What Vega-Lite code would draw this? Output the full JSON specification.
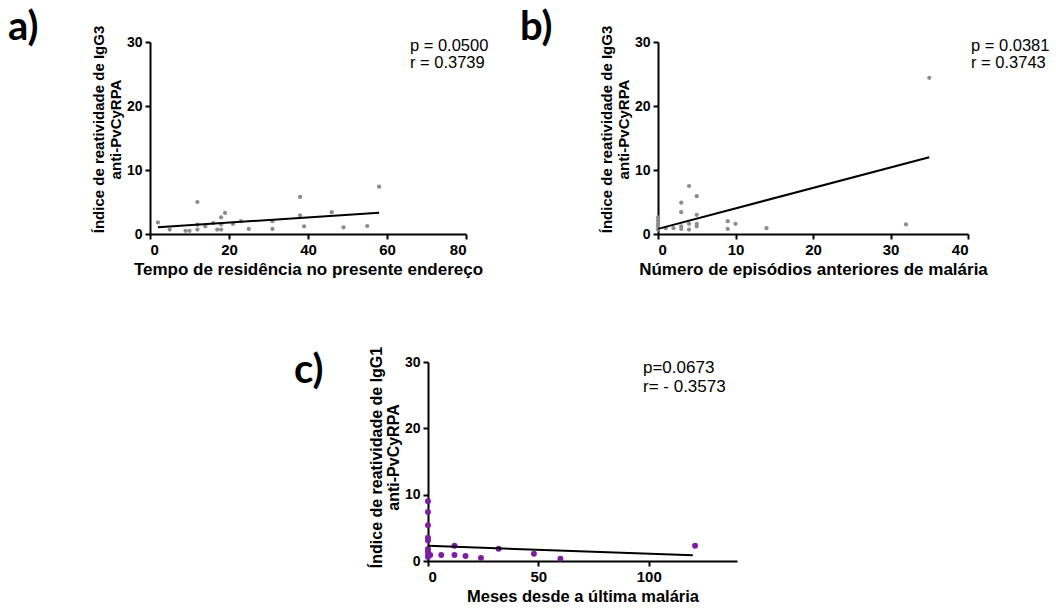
{
  "$schema": "https://vega.github.io/schema/vega-lite/v6.json",
  "padding": {"left": 8, "top": 8, "right": 5, "bottom": 0},
  "background": "white",
  "config": {
    "view": {"stroke": null},
    "font": "Liberation Sans",
    "axis": {"domainColor": "black", "domainWidth": 2, "tickColor": "black", "tickWidth": 2, "tickSize": 5, "labelFont": "Liberation Sans", "labelFontWeight": "bold", "labelColor": "black", "labelFontSize": 14, "grid": false, "titleFont": "Liberation Sans", "titleFontWeight": "bold", "titleColor": "black", "titleFontSize": 17},
    "axisX": {"labelFontSize": 15, "titlePadding": 4, "labelPadding": 3},
    "axisY": {"titleFontSize": 15, "titleLineHeight": 17, "labelPadding": 3, "titlePadding": 3},
    "title": {"font": "Lato", "fontSize": 40, "fontWeight": "bold", "color": "black", "anchor": "start", "frame": "group", "baseline": "alphabetic"},
    "text": {"font": "Liberation Sans"}
  },
  "datasets": {
    "a_pts": [
      {"x": 2, "y": 1.8}, {"x": 5, "y": 0.7}, {"x": 9, "y": 0.5}, {"x": 10, "y": 0.5}, {"x": 12, "y": 5.0}, {"x": 12, "y": 1.45}, {"x": 12, "y": 0.7}, {"x": 14, "y": 1.2}, {"x": 16, "y": 1.7}, {"x": 17, "y": 0.7}, {"x": 18, "y": 0.7}, {"x": 18, "y": 2.6}, {"x": 18, "y": 1.5}, {"x": 19, "y": 3.3}, {"x": 21, "y": 1.6}, {"x": 23, "y": 2.0}, {"x": 25, "y": 0.8}, {"x": 31, "y": 2.0}, {"x": 31, "y": 0.8}, {"x": 38, "y": 5.8}, {"x": 38, "y": 2.9}, {"x": 39, "y": 1.2}, {"x": 46, "y": 3.4}, {"x": 49, "y": 1.05}, {"x": 55, "y": 1.25}, {"x": 58, "y": 7.4}
    ],
    "a_fit": [{"x": 2, "y": 1.05}, {"x": 58, "y": 3.33}],
    "b_pts": [
      {"x": 0, "y": 2.6}, {"x": 0, "y": 2.1}, {"x": 0, "y": 1.6}, {"x": 0, "y": 1.2}, {"x": 0, "y": 0.7}, {"x": 1, "y": 0.9}, {"x": 2, "y": 0.9}, {"x": 3, "y": 4.9}, {"x": 3, "y": 3.4}, {"x": 3, "y": 1.2}, {"x": 3, "y": 0.8}, {"x": 4, "y": 7.5}, {"x": 4, "y": 1.6}, {"x": 4, "y": 0.7}, {"x": 5, "y": 5.9}, {"x": 5, "y": 3.0}, {"x": 5, "y": 1.6}, {"x": 5, "y": 1.2}, {"x": 9, "y": 2.0}, {"x": 9, "y": 0.8}, {"x": 10, "y": 1.6}, {"x": 14, "y": 0.9}, {"x": 32, "y": 1.5}, {"x": 35, "y": 24.4}
    ],
    "b_fit": [{"x": 0, "y": 0.8}, {"x": 35, "y": 12.0}],
    "c_pts": [
      {"x": 0, "y": 9.0}, {"x": 0, "y": 7.4}, {"x": 0, "y": 5.4}, {"x": 0, "y": 3.5}, {"x": 0, "y": 3.1}, {"x": 0, "y": 1.8}, {"x": 0, "y": 1.4}, {"x": 0, "y": 0.9}, {"x": 0, "y": 0.6}, {"x": 1, "y": 0.9}, {"x": 6, "y": 0.9}, {"x": 12, "y": 2.3}, {"x": 12, "y": 0.9}, {"x": 17, "y": 0.75}, {"x": 24, "y": 0.45}, {"x": 32, "y": 1.85}, {"x": 48, "y": 1.1}, {"x": 60, "y": 0.35}, {"x": 121, "y": 2.3}
    ],
    "c_fit": [{"x": 0, "y": 2.3}, {"x": 120, "y": 0.85}]
  },
  "spacing": 69,
  "vconcat": [
    {
      "spacing": 31,
      "hconcat": [
        {
          "width": 316, "height": 192,
          "title": {"text": "a)", "dx": -142, "offset": -12, "dy": 11},
          "layer": [
            {"data": {"name": "a_pts"}, "mark": {"type": "point", "filled": true, "color": "#8c8c8c", "size": 18, "opacity": 1},
             "encoding": {
               "x": {"field": "x", "type": "quantitative", "scale": {"domain": [0, 80]}, "axis": {"values": [0, 20, 40, 60, 80], "title": "Tempo de residência no presente endereço"}},
               "y": {"field": "y", "type": "quantitative", "scale": {"domain": [0, 30]}, "axis": {"values": [0, 10, 20, 30], "titleY": 87, "title": ["Índice de reatividade de IgG3", "anti-PvCyRPA"]}}
             }},
            {"data": {"name": "a_fit"}, "mark": {"type": "line", "color": "black", "strokeWidth": 2},
             "encoding": {"x": {"field": "x", "type": "quantitative"}, "y": {"field": "y", "type": "quantitative"}}},
            {"data": {"values": [{"stat": "a"}]}, "mark": {"type": "text", "align": "left", "baseline": "top", "fontSize": 16.5, "lineHeight": 17, "color": "black", "dy": -4},
             "encoding": {"x": {"datum": 65.8, "type": "quantitative"}, "y": {"datum": 30, "type": "quantitative"}, "text": {"value": ["p = 0.0500", "r = 0.3739"]}}}
          ]
        },
        {
          "width": 310, "height": 192,
          "title": {"text": "b)", "dx": -138, "offset": -12, "dy": 11},
          "layer": [
            {"data": {"name": "b_pts"}, "mark": {"type": "point", "filled": true, "color": "#8c8c8c", "size": 18, "opacity": 1},
             "encoding": {
               "x": {"field": "x", "type": "quantitative", "scale": {"domain": [0, 40]}, "axis": {"values": [0, 10, 20, 30, 40], "title": "Número de episódios anteriores de malária"}},
               "y": {"field": "y", "type": "quantitative", "scale": {"domain": [0, 30]}, "axis": {"values": [0, 10, 20, 30], "titleY": 87, "title": ["Índice de reatividade de IgG3", "anti-PvCyRPA"]}}
             }},
            {"data": {"name": "b_fit"}, "mark": {"type": "line", "color": "black", "strokeWidth": 2},
             "encoding": {"x": {"field": "x", "type": "quantitative"}, "y": {"field": "y", "type": "quantitative"}}},
            {"data": {"values": [{"stat": "b"}]}, "mark": {"type": "text", "align": "left", "baseline": "top", "fontSize": 16.5, "lineHeight": 17, "color": "black", "dy": -4, "dx": 3},
             "encoding": {"x": {"datum": 40, "type": "quantitative"}, "y": {"datum": 30, "type": "quantitative"}, "text": {"value": ["p = 0.0381", "r = 0.3743"]}}}
          ]
        }
      ]
    },
    {
      "spacing": 0,
      "hconcat": [
        {"width": 144, "height": 1, "data": {"values": []}, "mark": {"type": "point", "opacity": 0}, "encoding": {}},
        {
          "width": 309, "height": 199,
          "title": {"text": "c)", "dx": -134, "offset": -25, "dy": 20},
          "layer": [
            {"data": {"name": "c_pts"}, "mark": {"type": "point", "filled": true, "color": "#7b1fa2", "size": 35, "opacity": 1},
             "encoding": {
               "x": {"field": "x", "type": "quantitative", "scale": {"domain": [0, 131]}, "axis": {"values": [0, 50, 100], "titleFontSize": 16.5, "title": "Meses desde a última malária"}},
               "y": {"field": "y", "type": "quantitative", "scale": {"domain": [0, 30]}, "axis": {"values": [0, 10, 20, 30], "titleFontSize": 16, "titleY": 95, "title": ["Índice de reatividade de IgG1", "anti-PvCyRPA"]}}
             }},
            {"data": {"name": "c_fit"}, "mark": {"type": "line", "color": "black", "strokeWidth": 2},
             "encoding": {"x": {"field": "x", "type": "quantitative"}, "y": {"field": "y", "type": "quantitative"}}},
            {"data": {"values": [{"stat": "c"}]}, "mark": {"type": "text", "align": "left", "baseline": "top", "fontSize": 17, "lineHeight": 19, "color": "black", "dy": -2},
             "encoding": {"x": {"datum": 97.4, "type": "quantitative"}, "y": {"datum": 30, "type": "quantitative"}, "text": {"value": ["p=0.0673", "r= - 0.3573"]}}}
          ]
        }
      ]
    }
  ]
}
